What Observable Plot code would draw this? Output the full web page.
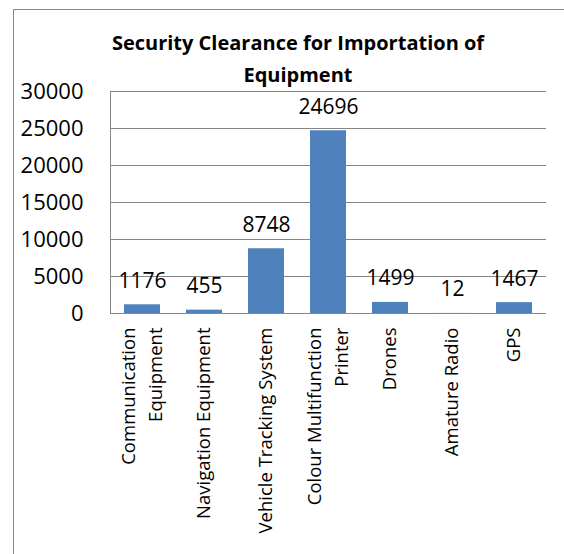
<!DOCTYPE html>
<html><head><meta charset="utf-8">
<script src="https://cdn.jsdelivr.net/npm/d3@7"></script>
<script src="https://cdn.jsdelivr.net/npm/@observablehq/plot@0.6"></script>
<style>
body{margin:0;background:#fff;}
#wrap{position:relative;width:564px;height:554px;overflow:hidden;font-family:"Open Sans",sans-serif;}
#border{position:absolute;left:13px;top:9px;right:-5px;bottom:-5px;border-left:1px solid #8a8a8a;border-top:1px solid #8a8a8a;}
#title{position:relative;height:70px;box-sizing:border-box;padding-left:32px;padding-top:27px;text-align:center;font-weight:bold;font-size:20px;line-height:32px;color:#000;}
#chart{position:relative;}
</style>
</head><body>
<div id="wrap">
<div id="border"></div>
<div id="title">Security Clearance for Importation of<br>Equipment</div>
<div id="chart"></div>
</div>
<script>
const categories = ["Communication Equipment","Navigation Equipment","Vehicle Tracking System","Colour Multifunction Printer","Drones","Amature Radio","GPS"];
const xLabels = ["Communication\nEquipment","Navigation Equipment","Vehicle Tracking System","Colour Multifunction\nPrinter","Drones","Amature Radio","GPS"];
const values = [1176,455,8748,24696,1499,12,1467];
const yTicks = [0,5000,10000,15000,20000,25000,30000];

const data = categories.map((c,i)=>({category:c, value:values[i], label:xLabels[i]}));

const chart = Plot.plot({
  width:564, height:484,
  marginTop:21, marginBottom:241, marginLeft:110, marginRight:18,
  x:{domain:categories, paddingInner:0.42, paddingOuter:0.21, label:null, axis:null},
  y:{domain:[0,30000], label:null},
  style:{fontFamily:"'Open Sans', sans-serif", color:"#000", background:"transparent", overflow:"visible"},
  marks:[
    Plot.gridY(yTicks, {stroke:"#868686", strokeOpacity:1}),
    Plot.axisY(yTicks, {tickSize:0, tickPadding:27, fontSize:22, label:null, tickFormat:d=>String(d)}),
    Plot.barY(data, {x:"category", y:"value", fill:"#4F81BD"}),
    Plot.ruleY([0], {stroke:"#868686"}),
    Plot.frame({anchor:"left", stroke:"#868686"}),
    Plot.text(data, {x:"category", y:"value", text:d=>String(d.value), lineAnchor:"bottom", dy:-17, fontSize:21, fill:"#000"}),
    Plot.text(data, {x:"category", text:"label", frameAnchor:"bottom", dx:-3, dy:14, rotate:-90, textAnchor:"end", lineAnchor:"middle", lineHeight:1.5, fontSize:18.5, fill:"#000"})
  ]
});
document.getElementById("chart").appendChild(chart);
</script>
</body></html>
